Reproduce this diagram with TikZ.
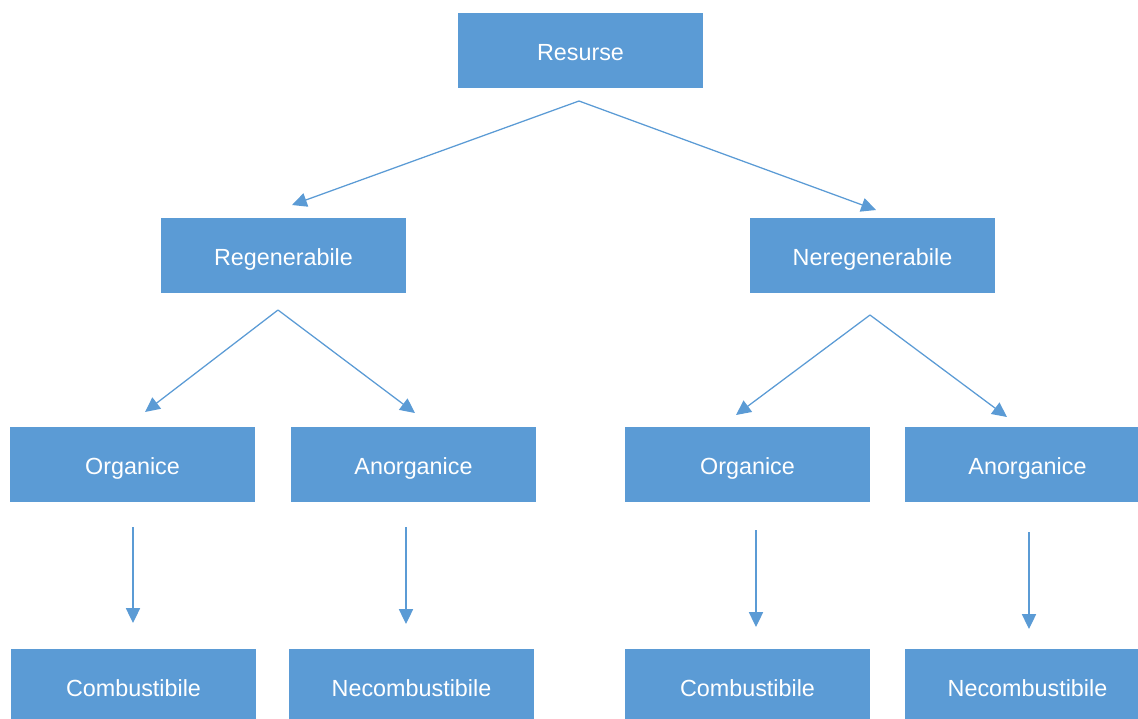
\documentclass[tikz,border=0pt]{standalone}
\usepackage{fontspec}
\setmainfont{Liberation Sans}
\usepackage{tikz}
\usetikzlibrary{arrows.meta}
\definecolor{boxblue}{HTML}{5B9BD5}

\begin{document}
\begin{tikzpicture}[
                    x=0.025cm, y=-0.025cm,
                    box style/.style={
                        rectangle,
                        fill=boxblue,
                        text=white,
                        align=center,
                        font=\fontsize{16.6}{20}\selectfont,
                        inner sep=0pt,
                        text height=14pt,
                        text depth=0pt,
                        minimum width=245*0.025cm,
                        minimum height=75*0.025cm
                    },
                    link style/.style={draw=boxblue, line width=0.9pt, -{Triangle[length=10.5pt, width=10pt]}}
                ]
                    \useasboundingbox (0,0) rectangle (1138,718);
                    % level 0 and 1
                    \node[box style] (res) at (580.5,50.5) {Resurse};
                    \node[box style] (reg) at (283.5,255.5) {Regenerabile};
                    \node[box style] (nereg) at (872.5,255.5) {Neregenerabile};
                    % level 2
                    \node[box style] (org1) at (132.5,464.5) {Organice};
                    \node[box style] (anorg1) at (413.5,464.5) {Anorganice};
                    \node[box style] (org2) at (747.5,464.5) {Organice};
                    \node[box style] (anorg2) at (1027.5,464.5) {Anorganice};
                    % level 3
                    \node[box style] (comb1) at (133.5,686.5) {Combustibile};
                    \node[box style] (necomb1) at (411.5,686.5) {Necombustibile};
                    \node[box style] (comb2) at (747.5,686.5) {Combustibile};
                    \node[box style] (necomb2) at (1027.5,686.5) {Necombustibile};
                    % arrow ends
                    \coordinate (res out) at (579,101);
                    \coordinate (reg in) at (292,205);
                    \coordinate (nereg in) at (876,210);
                    \coordinate (reg out) at (278,310);
                    \coordinate (org1 in) at (145,412);
                    \coordinate (anorg1 in) at (415,413);
                    \coordinate (nereg out) at (870,315);
                    \coordinate (org2 in) at (736,415);
                    \coordinate (anorg2 in) at (1007,417);
                    \coordinate (org1 out) at (133,527);
                    \coordinate (comb1 in) at (133,623);
                    \coordinate (anorg1 out) at (406,527);
                    \coordinate (necomb1 in) at (406,624);
                    \coordinate (org2 out) at (756,530);
                    \coordinate (comb2 in) at (756,627);
                    \coordinate (anorg2 out) at (1029,532);
                    \coordinate (necomb2 in) at (1029,629);
                    \draw[link style] (res out) -- (reg in);
                    \draw[link style] (res out) -- (nereg in);
                    \draw[link style] (reg out) -- (org1 in);
                    \draw[link style] (reg out) -- (anorg1 in);
                    \draw[link style] (nereg out) -- (org2 in);
                    \draw[link style] (nereg out) -- (anorg2 in);
                    \draw[link style] (org1 out) -- (comb1 in);
                    \draw[link style] (anorg1 out) -- (necomb1 in);
                    \draw[link style] (org2 out) -- (comb2 in);
                    \draw[link style] (anorg2 out) -- (necomb2 in);
                \end{tikzpicture}
\end{document}
